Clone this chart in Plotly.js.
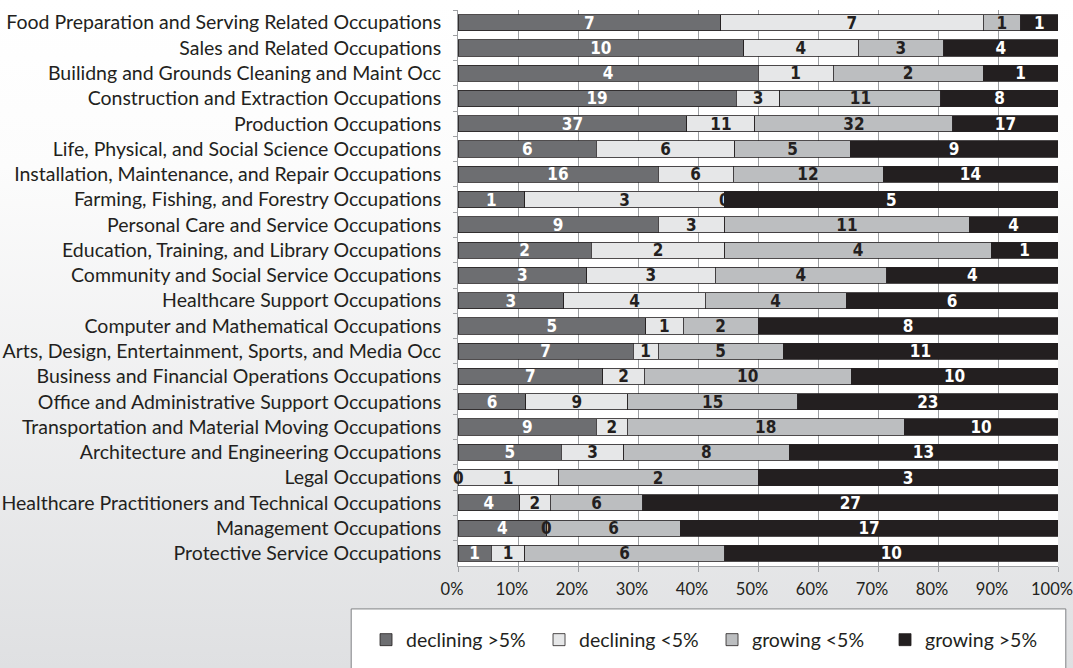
<!DOCTYPE html>
<html>
<head>
<meta charset="utf-8">
<script src="https://cdn.plot.ly/plotly-3.0.1.min.js"></script>
<style>
html,body{margin:0;padding:0;}
body{width:1073px;height:668px;background:linear-gradient(to bottom,#ffffff 0%,#fcfcfc 25%,#dfe0e2 100%);}
#chart{width:1073px;height:668px;}
</style>
</head>
<body>
<div id="chart"></div>
<script>
const categories = [
  "Food Preparation and Serving Related Occupations",
  "Sales and Related Occupations",
  "Builidng and Grounds Cleaning and Maint Occ",
  "Construction and Extraction Occupations",
  "Production Occupations",
  "Life, Physical, and Social Science Occupations",
  "Installation, Maintenance, and Repair Occupations",
  "Farming, Fishing, and Forestry Occupations",
  "Personal Care and Service Occupations",
  "Education, Training, and Library Occupations",
  "Community and Social Service Occupations",
  "Healthcare Support Occupations",
  "Computer and Mathematical Occupations",
  "Arts, Design, Entertainment, Sports, and Media Occ",
  "Business and Financial Operations Occupations",
  "Office and Administrative Support Occupations",
  "Transportation and Material Moving Occupations",
  "Architecture and Engineering Occupations",
  "Legal Occupations",
  "Healthcare Practitioners and Technical Occupations",
  "Management Occupations",
  "Protective Service Occupations"
];
const decliningOver5 = [7,10,4,19,37,6,16,1,9,2,3,3,5,7,7,6,9,5,0,4,4,1];
const decliningUnder5 = [7,4,1,3,11,6,6,3,3,2,3,4,1,1,2,9,2,3,1,2,0,1];
const growingUnder5 = [1,3,2,11,32,5,12,0,11,4,4,4,2,5,10,15,18,8,2,6,6,6];
const growingOver5 = [1,4,1,8,17,9,14,5,4,1,4,6,8,11,10,23,10,13,3,27,17,10];

const seriesNames = ["declining >5%","declining <5%","growing <5%","growing >5%"];
const seriesValues = [decliningOver5, decliningUnder5, growingUnder5, growingOver5];
const seriesColors = ["#6d6e71","#e6e7e8","#bcbec0","#231f20"];
const textColors = ["#ffffff","#231f20","#231f20","#ffffff"];
const xTickVals = [0,10,20,30,40,50,60,70,80,90,100];
const xTickText = ["0%","10%","20%","30%","40%","50%","60%","70%","80%","90%","100%"];

const barFont = "'DejaVu Sans Condensed','Liberation Sans Narrow','Arial Narrow',sans-serif";
const labelFont = "Lato, 'Open Sans', sans-serif";

const traces = seriesValues.map((vals, i) => ({
  type: 'bar',
  orientation: 'h',
  name: seriesNames[i],
  y: categories,
  x: vals,
  text: vals.map(String),
  texttemplate: '<b>%{text}</b>',
  textposition: 'inside',
  insidetextanchor: 'middle',
  textangle: 0,
  constraintext: 'none',
  textfont: {family: barFont, size: 17, color: textColors[i]},
  marker: {color: seriesColors[i], line: {color: '#231f20', width: 0.8}},
  hoverinfo: 'skip'
}));

// labels for zero-valued segments (zero-width bars don't show inside text)
const annotations = [];
categories.forEach((c, r) => {
  const total = seriesValues.reduce((s, v) => s + v[r], 0);
  let cum = 0;
  seriesValues.forEach((vals, i) => {
    if (vals[r] === 0) {
      annotations.push({
        x: cum / total * 100, y: c, xref: 'x', yref: 'y',
        text: '<b>0</b>', showarrow: false,
        font: {family: barFont, size: 17, color: '#231f20'}
      });
    }
    cum += vals[r];
  });
});

const layout = {
  width: 1073, height: 668,
  margin: {l: 458, r: 15, t: 10, b: 101},
  paper_bgcolor: 'rgba(0,0,0,0)',
  plot_bgcolor: '#ffffff',
  barmode: 'stack',
  barnorm: 'percent',
  bargap: 0.36,
  showlegend: true,
  xaxis: {
    range: [0, 100],
    tickvals: xTickVals, ticktext: xTickText,
    showgrid: true, gridcolor: '#9d9fa2', gridwidth: 1,
    ticks: 'outside', ticklen: 5, tickcolor: '#9d9fa2',
    showline: true, linecolor: '#9d9fa2', linewidth: 1,
    zeroline: false,
    ticklabeloverflow: 'allow',
    ticklabelshift: -6,
    ticklabelstandoff: 3,
    tickfont: {family: labelFont, size: 16.5, color: '#231f20'},
    fixedrange: true
  },
  yaxis: {
    autorange: 'reversed',
    type: 'category',
    showgrid: false,
    ticks: 'outside', ticklen: 4, tickcolor: '#9d9fa2', tickson: 'boundaries',
    showline: true, linecolor: '#9d9fa2', linewidth: 1,
    ticklabelstandoff: 12,
    tickfont: {family: labelFont, size: 19.5, color: '#231f20'},
    fixedrange: true
  },
  legend: {
    orientation: 'h',
    x: -0.1533, xanchor: 'left',
    y: -0.131, yanchor: 'middle',
    entrywidth: 128, entrywidthmode: 'pixels',
    font: {family: labelFont, size: 19.5, color: '#231f20'},
    bgcolor: 'rgba(0,0,0,0)', borderwidth: 0,
    traceorder: 'normal'
  },
  shapes: [{
    type: 'rect', xref: 'paper', yref: 'paper',
    x0: -0.178, x1: 1.013, y0: -0.0772, y1: -0.25,
    line: {color: '#808285', width: 1}, fillcolor: '#ffffff', layer: 'below'
  }],
  annotations: annotations
};

Plotly.newPlot('chart', traces, layout, {displayModeBar: false, staticPlot: true});
</script>
</body>
</html>
